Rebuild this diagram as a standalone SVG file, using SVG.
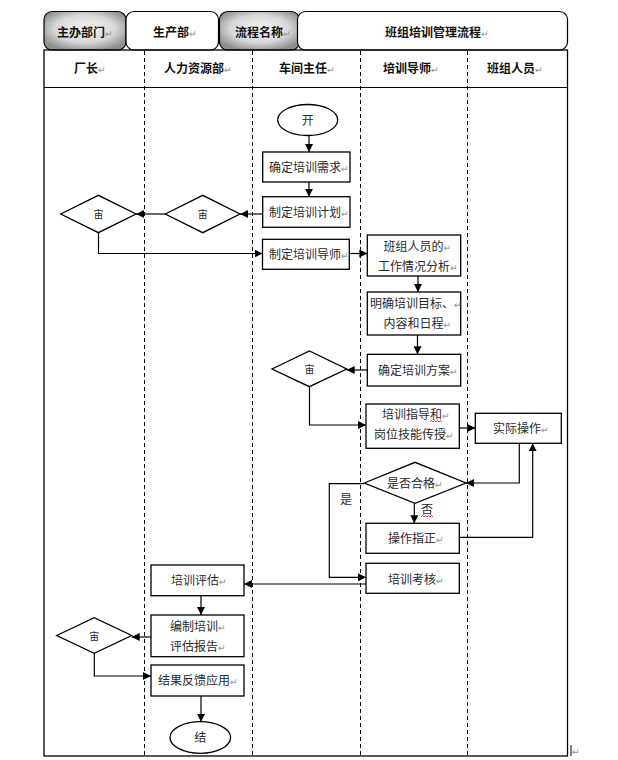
<svg xmlns="http://www.w3.org/2000/svg" width="618" height="760" viewBox="0 0 618 760">
<style>
text{font-family:"Noto Sans CJK SC","Noto Sans",sans-serif;fill:#2a2a2a;font-size:12px;text-anchor:middle}
.h{font-weight:bold;fill:#111}
.s{font-size:10px}
.pm{font-family:"DejaVu Sans",sans-serif;font-size:9.5px;fill:#9a9a9a;font-weight:normal}
.box{fill:#fff;stroke:#000;stroke-width:1.3}
.ln{fill:none;stroke:#000;stroke-width:1.2}
.dash{fill:none;stroke:#000;stroke-width:1;stroke-dasharray:4,3}
.tabg{fill:url(#g);stroke:#000;stroke-width:1.2}
.tabw{fill:#fff;stroke:#000;stroke-width:1.2}
.sq{fill:none;stroke:#e00;stroke-width:0.8}
</style>
<defs>
<radialGradient id="g" cx="50%" cy="45%" r="60%">
<stop offset="0" stop-color="#f4f4f4"/>
<stop offset="0.6" stop-color="#d8d8d8"/>
<stop offset="1" stop-color="#8e8e8e"/>
</radialGradient>
<marker id="a" viewBox="0 0 10 10" refX="10" refY="5" markerWidth="8" markerHeight="8" markerUnits="userSpaceOnUse" orient="auto">
<path d="M0,0 L10,5 L0,10 z" fill="#000"/>
</marker>
</defs>

<g id="header">
<rect class="tabg" x="44" y="11.5" width="82" height="38.5" rx="8"/>
<rect class="tabw" x="126" y="11.5" width="92.5" height="38.5" rx="8"/>
<rect class="tabg" x="219.5" y="11.5" width="80" height="38.5" rx="8"/>
<rect class="tabw" x="297.5" y="11.5" width="270" height="38.5" rx="8"/>
<text class="h" x="85" y="37">主办部门<tspan class="pm">↵</tspan></text>
<text class="h" x="175" y="37">生产部<tspan class="pm">↵</tspan></text>
<text class="h" x="263" y="37">流程名称<tspan class="pm">↵</tspan></text>
<text class="h" x="437" y="37">班组培训管理流程<tspan class="pm">↵</tspan></text>
</g>

<g id="lanes">
<rect x="44" y="50" width="523.5" height="706" fill="none" stroke="#000" stroke-width="1.3"/>
<line x1="44" y1="87.5" x2="567.5" y2="87.5" stroke="#000" stroke-width="1.2"/>
<line class="dash" x1="144.5" y1="51" x2="144.5" y2="756"/>
<line class="dash" x1="252.5" y1="51" x2="252.5" y2="756"/>
<line class="dash" x1="360.5" y1="51" x2="360.5" y2="756"/>
<line class="dash" x1="467.5" y1="51" x2="467.5" y2="756"/>
<text class="h" x="90" y="73">厂长<tspan class="pm">↵</tspan></text>
<text class="h" x="198" y="73">人力资源部<tspan class="pm">↵</tspan></text>
<text class="h" x="307" y="73">车间主任<tspan class="pm">↵</tspan></text>
<text class="h" x="411" y="73">培训导师<tspan class="pm">↵</tspan></text>
<text class="h" x="515" y="73">班组人员<tspan class="pm">↵</tspan></text>
<line x1="571" y1="745" x2="571" y2="756" stroke="#000" stroke-width="1"/>
<text class="pm" x="576" y="755">↵</text>
</g>

<g id="connectors">
<path class="ln" d="M309,135 V152" marker-end="url(#a)"/>
<path class="ln" d="M309,182 V196.7" marker-end="url(#a)"/>
<path class="ln" d="M262.7,214 H240" marker-end="url(#a)"/>
<path class="ln" d="M165.3,214 H136" marker-end="url(#a)"/>
<path class="ln" d="M98.5,232.7 V253.5 H262.5" marker-end="url(#a)"/>
<path class="ln" d="M349.3,253.5 H367.3" marker-end="url(#a)"/>
<path class="ln" d="M418,276 V292" marker-end="url(#a)"/>
<path class="ln" d="M417.5,335 V354.3" marker-end="url(#a)"/>
<path class="ln" d="M367.3,370 H346.7" marker-end="url(#a)"/>
<path class="ln" d="M309.5,386.7 V425 H366" marker-end="url(#a)"/>
<path class="ln" d="M459.3,428 H475.3" marker-end="url(#a)"/>
<path class="ln" d="M519.3,443.3 V483 H466" marker-end="url(#a)"/>
<path class="ln" d="M414.3,503.3 V523.3" marker-end="url(#a)"/>
<path class="ln" d="M459.3,537.3 H532.7 V443.3" marker-end="url(#a)"/>
<path class="ln" d="M364.3,483.7 H329.3 V577.3 H366" marker-end="url(#a)"/>
<path class="ln" d="M366,584 H244" marker-end="url(#a)"/>
<path class="ln" d="M201,595.7 V615" marker-end="url(#a)"/>
<path class="ln" d="M151,637 H131.7" marker-end="url(#a)"/>
<path class="ln" d="M94.3,653.3 V676 H151" marker-end="url(#a)"/>
<path class="ln" d="M201,696 V721.7" marker-end="url(#a)"/>
<text x="346" y="504">是</text>
<text x="427" y="514">否</text>
<path class="sq" d="M421,517 l1.5,-1.5 l1.5,1.5 l1.5,-1.5 l1.5,1.5 l1.5,-1.5 l1.5,1.5 l1.5,-1.5 l1.5,1.5"/>
</g>

<g id="start">
<ellipse class="box" cx="307.7" cy="120" rx="30" ry="15.5"/>
<text x="307.7" y="124.5">开</text>
</g>
<g id="n1">
<rect class="box" x="262.7" y="152" width="87.3" height="30"/>
<text x="309" y="171.5">确定培训需求<tspan class="pm">↵</tspan></text>
</g>
<g id="n2">
<rect class="box" x="262.7" y="196.7" width="87.3" height="30.6"/>
<text x="309" y="216.5">制定培训计划<tspan class="pm">↵</tspan></text>
</g>
<g id="d1">
<polygon class="box" points="165.3,214 202.7,195.3 240,214 202.7,232.7"/>
<text class="s" x="202.7" y="218">宙</text>
</g>
<g id="d2">
<polygon class="box" points="60.7,214 98.4,195.3 136,214 98.4,232.7"/>
<text class="s" x="98.4" y="218">宙</text>
</g>
<g id="n3">
<rect class="box" x="262.5" y="239.3" width="86.8" height="30"/>
<text x="309" y="258.5">制定培训导师<tspan class="pm">↵</tspan></text>
</g>
<g id="n4">
<rect class="box" x="367.3" y="235" width="93.4" height="41"/>
<text x="417.5" y="251">班组人员的<tspan class="pm">↵</tspan></text>
<text x="418" y="271">工作情况分析<tspan class="pm">↵</tspan></text>
</g>
<g id="n5">
<rect class="box" x="367.3" y="292" width="93.4" height="43"/>
<text x="416" y="308">明确培训目标、<tspan class="pm">↵</tspan></text>
<text x="417.5" y="328">内容和日程<tspan class="pm">↵</tspan></text>
</g>
<g id="n6">
<rect class="box" x="367.3" y="354.3" width="93.4" height="31.7"/>
<text x="418" y="375">确定培训方案<tspan class="pm">↵</tspan></text>
</g>
<g id="d3">
<polygon class="box" points="272,369 309.4,351 346.7,369 309.4,386.7"/>
<text class="s" x="309.4" y="373">宙</text>
</g>
<g id="n7">
<rect class="box" x="366" y="404" width="93.3" height="44.3"/>
<text x="416" y="419">培训指导和<tspan class="pm">↵</tspan></text>
<path class="sq" d="M430,422 l1.5,-1.5 l1.5,1.5 l1.5,-1.5 l1.5,1.5 l1.5,-1.5 l1.5,1.5 l1.5,-1.5 l1.5,1.5"/>
<text x="414" y="439">岗位技能传授<tspan class="pm">↵</tspan></text>
</g>
<g id="n8">
<rect class="box" x="475.3" y="413.3" width="86" height="30"/>
<text x="521" y="432.5">实际操作<tspan class="pm">↵</tspan></text>
</g>
<g id="d4">
<polygon class="box" points="364.3,483 415,462.3 466,483 415,503.3"/>
<text x="415" y="488">是否合格<tspan class="pm">↵</tspan></text>
</g>
<g id="n9">
<rect class="box" x="366" y="523.3" width="93.3" height="30"/>
<text x="416" y="543">操作指正<tspan class="pm">↵</tspan></text>
</g>
<g id="n10">
<rect class="box" x="366" y="563.3" width="93.3" height="30"/>
<text x="416" y="583.5">培训考核<tspan class="pm">↵</tspan></text>
</g>
<g id="n11">
<rect class="box" x="151" y="565" width="93" height="30.7"/>
<text x="199" y="585">培训评估<tspan class="pm">↵</tspan></text>
</g>
<g id="n12">
<rect class="box" x="151" y="615" width="93" height="41.7"/>
<text x="198" y="631">编制培训<tspan class="pm">↵</tspan></text>
<text x="198" y="651">评估报告<tspan class="pm">↵</tspan></text>
</g>
<g id="d5">
<polygon class="box" points="56.7,635.5 94.2,617.7 131.7,635.5 94.2,653.3"/>
<text class="s" x="94.2" y="639.5">宙</text>
</g>
<g id="n13">
<rect class="box" x="151" y="665" width="93" height="31"/>
<text x="198" y="685">结果反馈应用<tspan class="pm">↵</tspan></text>
</g>
<g id="end">
<ellipse class="box" cx="200.3" cy="737.5" rx="30.3" ry="15.8"/>
<text x="200.3" y="742">结</text>
</g>
</svg>
